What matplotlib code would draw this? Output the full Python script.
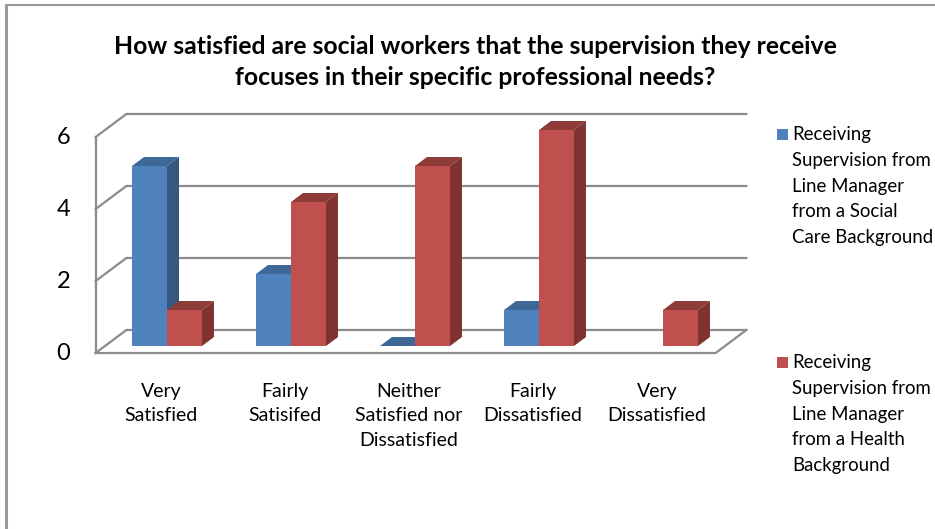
import matplotlib
matplotlib.use("Agg")
import matplotlib.pyplot as plt
from matplotlib.patches import Polygon, Rectangle
import numpy as np

# data
categories = ["Very\nSatisfied", "Fairly\nSatisifed", "Neither\nSatisfied nor\nDissatisfied",
              "Fairly\nDissatisfied", "Very\nDissatisfied"]
social_care = [5, 2, 0, 1, None]
health = [1, 4, 5, 6, 1]
series_names = ["Receiving\nSupervision from\nLine Manager\nfrom a Social\nCare Background",
                "Receiving\nSupervision from\nLine Manager\nfrom a Health\nBackground"]
yticks = [0, 2, 4, 6]
title = ("How satisfied are social workers that the supervision they receive\n"
         "focuses in their specific professional needs?")

# colours (front, side, top)
blue = ("#4f81bd", "#34587f", "#3d6897")
red = ("#c0504d", "#7f3230", "#8f3b38")
grid_col = "#8c8c8c"

# oblique depth: one unit of depth shifts x / y (data units)
DX, DY = 12 / 124, 9 / 36
Z_FRONT, Z_BACK = -0.78, 1.78
BW = 0.282

def proj(x, v, z):
    return (x + z * DX, v + z * DY)

fig = plt.figure(figsize=(9.35, 5.29), dpi=100)
ax = fig.add_axes([0, 0, 1, 1])
ax.set_xlim((0 - 167) / 124, (935 - 167) / 124)
ax.set_ylim((346 - 529) / 36, 346 / 36)
ax.axis("off")

# frame border
fig.add_artist(plt.Line2D([6 / 935, 6 / 935], [0, 1 - 5 / 529], color="#999999", lw=2.2,
                          transform=fig.transFigure))
fig.add_artist(plt.Line2D([6 / 935, 1], [1 - 5 / 529, 1 - 5 / 529], color="#999999", lw=1.5,
                          transform=fig.transFigure))

x0, x1 = -0.5, len(categories) - 0.5
# walls and gridlines
for v in yticks:
    a = proj(x0, v, Z_FRONT)
    b = proj(x0, v, Z_BACK)
    c = proj(x1, v, Z_BACK)
    ax.plot([a[0], b[0], c[0]], [a[1], b[1], c[1]], color=grid_col, lw=1.6, zorder=1,
            solid_joinstyle="miter")
# left front edge
a = proj(x0, 0, Z_FRONT)
b = proj(x0, max(yticks), Z_FRONT)
ax.plot([a[0], b[0]], [a[1], b[1]], color=grid_col, lw=1.6, zorder=1)
# floor front and right edges
p = [proj(x0, 0, Z_FRONT), proj(x1, 0, Z_FRONT), proj(x1, 0, Z_BACK)]
ax.plot([q[0] for q in p], [q[1] for q in p], color=grid_col, lw=1.6, zorder=1,
        solid_joinstyle="miter")

def bar3d(xl, h, cols):
    xr = xl + BW
    front = [(xl, 0), (xr, 0), (xr, h), (xl, h)]
    side = [(xr, 0), proj(xr, 0, 1), proj(xr, h, 1), (xr, h)]
    top = [(xl, h), (xr, h), proj(xr, h, 1), proj(xl, h, 1)]
    if h > 0:
        ax.add_patch(Polygon(front, closed=True, fc=cols[0], ec="none", zorder=3))
        ax.add_patch(Polygon(side, closed=True, fc=cols[1], ec="none", zorder=3))
    ax.add_patch(Polygon(top, closed=True, fc=cols[2], ec="none", zorder=3))

for i in range(len(categories)):
    if social_care[i] is not None:
        bar3d(i - BW, social_care[i], blue)
    if health[i] is not None:
        bar3d(i, health[i], red)

font = "Lato"
# y tick labels
for v in yticks:
    px, py = proj(x0, v, Z_FRONT)
    ax.text(-0.78, py, str(v), ha="right", va="center", fontsize=17, family=font)

# category labels
for i, c in enumerate(categories):
    ax.text(i - 0.05, -1.02, c, ha="center", va="top", fontsize=14, family=font,
            linespacing=1.55)

# title
fig.text(475 / 935, 1 - 62 / 529, title, ha="center", va="center", fontsize=17.8,
         fontweight="bold", family=font, linespacing=1.4)

# legend
for k, (name, cols) in enumerate(zip(series_names, [blue, red])):
    ytop = 129 if k == 0 else 357
    fig.add_artist(Rectangle((777 / 935, 1 - (ytop + 11) / 529), 11 / 935, 11 / 529,
                             fc=cols[0], ec="none", transform=fig.transFigure))
    fig.text(792 / 935, 1 - (ytop - 3) / 529, name, ha="left", va="top", fontsize=13.4,
             family=font, linespacing=1.63)

fig.savefig("out.png", dpi=100)
